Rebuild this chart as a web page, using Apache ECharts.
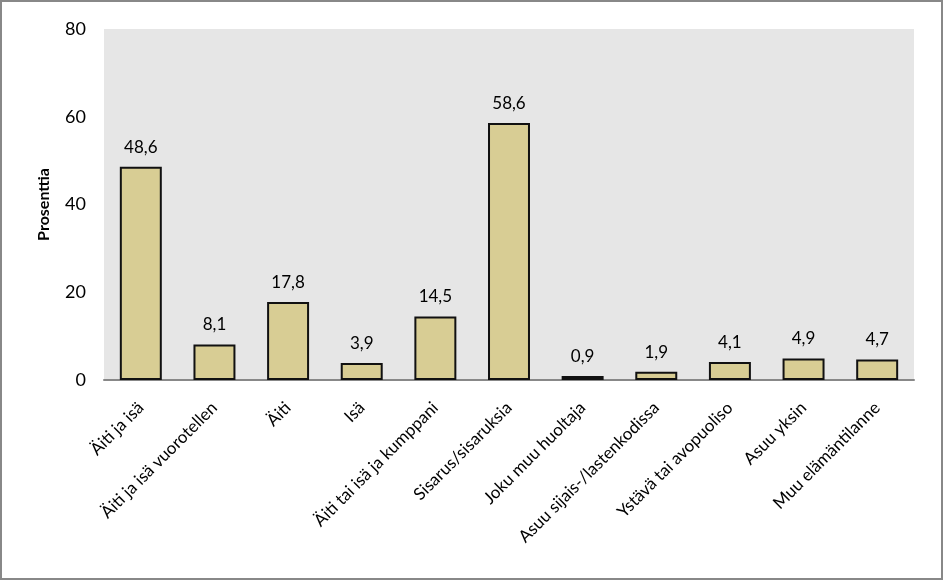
<!DOCTYPE html>
<html><head><meta charset="utf-8">
<script src="https://cdn.jsdelivr.net/npm/echarts@6/dist/echarts.min.js"></script>
<style>html,body{margin:0;padding:0;background:#fff}#c{width:943px;height:580px;box-sizing:border-box;border:2px solid #888}</style>
</head><body><div id="c"></div>
<script>
const categories = ["Äiti ja isä","Äiti ja isä vuorotellen","Äiti","Isä","Äiti tai isä ja kumppani","Sisarus/sisaruksia","Joku muu huoltaja","Asuu sijais-/lastenkodissa","Ystävä tai avopuoliso","Asuu yksin","Muu elämäntilanne"];
const values = [48.6, 8.1, 17.8, 3.9, 14.5, 58.6, 0.9, 1.9, 4.1, 4.9, 4.7];
const yTicks = [0, 20, 40, 60, 80];

const chart = echarts.init(document.getElementById('c'));
const font = "Lato, 'Open Sans', sans-serif";
chart.setOption({
  animation: false,
  textStyle: {fontFamily: font},
  grid: {left: 102, right: 27, top: 27, bottom: 198, backgroundColor: '#e6e6e6', show: true, borderWidth: 0},
  xAxis: {
    type: 'category', data: categories,
    axisLine: {lineStyle: {color: '#888', width: 2}},
    axisTick: {show: false},
    axisLabel: {rotate: 45, interval: 0, color: '#000', fontSize: 17, fontFamily: font, margin: 25}
  },
  yAxis: {
    type: 'value', min: yTicks[0], max: yTicks[yTicks.length-1], interval: 20,
    name: 'Prosenttia', nameLocation: 'middle', nameGap: 52,
    nameTextStyle: {fontWeight: 'bold', fontSize: 16, color: '#000', fontFamily: font},
    axisLine: {show: false}, axisTick: {show: false}, splitLine: {show: false},
    axisLabel: {color: '#000', fontSize: 18, fontFamily: font, margin: 18}
  },
  series: [{
    type: 'bar', data: values, barWidth: '57%',
    itemStyle: {color: '#d8cd94', borderColor: '#111', borderWidth: 2},
    label: {show: true, position: 'top', distance: 11, color: '#000', fontSize: 17, fontFamily: font,
      formatter: p => String(p.value).replace('.', ',')}
  }]
});
</script></body></html>
